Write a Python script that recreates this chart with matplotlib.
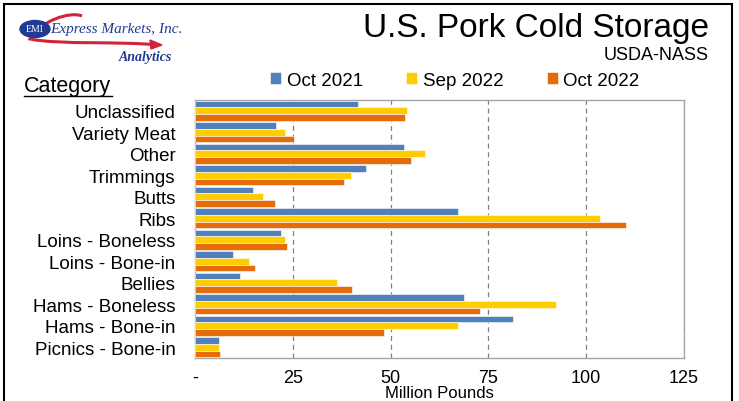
import numpy as np
import matplotlib.pyplot as plt
from matplotlib.patches import Rectangle, Ellipse, PathPatch
from matplotlib.path import Path

plt.rcParams['font.family'] = ['Liberation Sans', 'DejaVu Sans']

categories = ['Unclassified', 'Variety Meat', 'Other', 'Trimmings', 'Butts', 'Ribs',
              'Loins - Boneless', 'Loins - Bone-in', 'Bellies', 'Hams - Boneless',
              'Hams - Bone-in', 'Picnics - Bone-in']
oct_2021 = [41.7, 20.7, 53.3, 43.8, 14.8, 67.1, 22.0, 9.6, 11.5, 68.7, 81.3, 6.1]
sep_2022 = [54.3, 23.1, 58.9, 39.9, 17.5, 103.4, 23.0, 13.8, 36.3, 92.2, 67.3, 6.1]
oct_2022 = [53.8, 25.4, 55.1, 38.0, 20.4, 110.1, 23.4, 15.4, 40.0, 72.9, 48.4, 6.4]
series_names = ['Oct 2021', 'Sep 2022', 'Oct 2022']
colors = ['#4F81BD', '#FFCC00', '#E46C0A']
xticks = [0, 25, 50, 75, 100, 125]
xtick_labels = ['-', '25', '50', '75', '100', '125']

W, H = 739, 402
fig = plt.figure(figsize=(W / 100, H / 100), dpi=100)
ax = fig.add_axes([0.2639, 0.107, 0.6617, 0.6418])


def px(x, y):
    # pixel coords (from top-left) to figure fraction
    return x / W, 1 - y / H


y = np.arange(len(categories))
h = 0.31
for i, vals in enumerate([oct_2021, sep_2022, oct_2022]):
    ax.barh(y + (i - 1) * h, vals, height=h, color=colors[i],
            edgecolor='white', linewidth=0.4, label=series_names[i], zorder=3)

ax.set_ylim(len(categories) - 0.5, -0.5)
ax.set_xlim(0, 125)
ax.set_yticks(y)
ax.set_yticklabels(categories, fontsize=13.5)
ax.set_xticks(xticks)
ax.set_xticklabels(xtick_labels, fontsize=13)
ax.tick_params(axis='y', length=0, pad=14)
ax.tick_params(axis='x', length=0, pad=8)
ax.xaxis.grid(True, linestyle=(0, (4, 3)), color='#808080', linewidth=0.9, zorder=0)
for s in ax.spines.values():
    s.set_color('#A6A6A6')
    s.set_linewidth(1.0)
ax.set_xlabel('Million Pounds', fontsize=12, labelpad=-1)

# legend across the top
fig.legend(loc='upper left', bbox_to_anchor=(0.355, 0.838), ncol=3, frameon=False,
           fontsize=13.5, handlelength=0.6, handleheight=0.6, handletextpad=0.3,
           columnspacing=2.3, borderaxespad=0)

# titles
fig.text(*px(709, 37), 'U.S. Pork Cold Storage', ha='right', va='baseline', fontsize=24)
fig.text(*px(709, 60), 'USDA-NASS', ha='right', va='baseline', fontsize=13)
fig.text(*px(24, 92), 'Category', ha='left', va='baseline', fontsize=15.5)
x0, y0 = px(24, 97)
x1, _ = px(112, 97)
fig.add_artist(plt.Line2D([x0, x1], [y0, y0], color='black', linewidth=1.0))

# logo
swoosh = Path([px(82, 17), px(70, 12), px(40, 22), px(30, 40),
               px(60, 46), px(120, 42), px(158, 46)],
              [Path.MOVETO, Path.CURVE4, Path.CURVE4, Path.CURVE4,
               Path.CURVE4, Path.CURVE4, Path.CURVE4])
fig.add_artist(PathPatch(swoosh, fill=False, edgecolor='#D2233C', linewidth=2.2,
                         transform=fig.transFigure))
fig.add_artist(plt.Polygon([px(150, 41), px(162, 46), px(151, 50)], closed=True,
                           color='#D2233C', transform=fig.transFigure))
fig.add_artist(Ellipse(px(35, 30), 30 / W, 17 / H, color='#1F3A93',
                       transform=fig.transFigure))
fig.text(*px(35, 30), 'EMI', color='white', ha='center', va='center', fontsize=7,
         family='Liberation Serif')
fig.text(*px(50, 30), 'Express Markets, Inc.', color='#1F3A93', ha='left', va='center',
         fontsize=11, family='Liberation Serif', style='italic')
fig.text(*px(172, 58), 'Analytics', color='#1F3A93', ha='right', va='center',
         fontsize=10, family='Liberation Serif', style='italic', weight='bold')

# outer frame
fig.add_artist(Rectangle((0.006, -0.05), 0.984, 1.037, fill=False, edgecolor='black',
                         linewidth=1.5, transform=fig.transFigure))

fig.savefig('out.png', dpi=100)
